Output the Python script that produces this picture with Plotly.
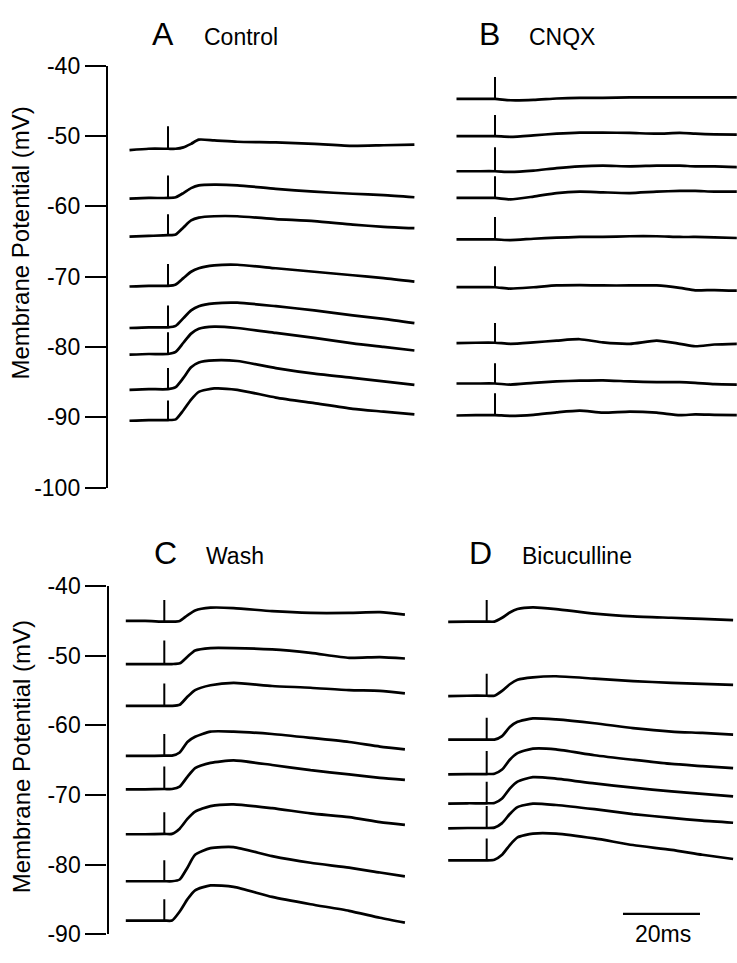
import plotly.graph_objects as go

W, H = 737, 963


def px_x(p):
    return p / W


def px_y(p):
    return 1 - p / H


FONT = "Liberation Sans, Arial, Helvetica, sans-serif"

# ---------------- data (ms relative to stimulus, mV) ----------------
A_time = [-10, -5, 0, 2, 4, 6, 8, 12, 18, 28, 38, 48, 56, 64]
A_trace1 = [-52.0, -51.8, -51.8, -51.8, -51.6, -51.1, -50.5, -50.6, -50.8, -50.9, -51.1, -51.4, -51.3, -51.2]
A_trace2 = [-58.9, -58.8, -58.8, -58.7, -58.1, -57.4, -57.0, -56.9, -57.0, -57.5, -57.9, -58.2, -58.4, -58.7]
A_trace3 = [-64.3, -64.2, -64.1, -64.0, -63.0, -62.0, -61.6, -61.4, -61.4, -61.8, -62.1, -62.6, -62.9, -63.1]
A_trace4 = [-71.4, -71.3, -71.3, -71.1, -70.2, -69.3, -68.8, -68.4, -68.3, -68.8, -69.3, -69.8, -70.2, -70.7]
A_trace5 = [-77.3, -77.2, -77.2, -77.0, -75.9, -74.8, -74.2, -73.8, -73.7, -74.2, -74.8, -75.5, -76.0, -76.6]
A_trace6 = [-81.1, -81.0, -81.0, -80.7, -79.4, -78.1, -77.4, -77.1, -77.3, -78.0, -78.7, -79.5, -80.0, -80.5]
A_trace7 = [-86.1, -86.0, -86.0, -85.7, -84.4, -82.9, -82.2, -81.9, -82.0, -83.0, -83.8, -84.4, -84.9, -85.4]
A_trace8 = [-90.5, -90.4, -90.4, -90.3, -89.0, -87.5, -86.4, -85.9, -86.1, -87.2, -88.0, -88.8, -89.2, -89.6]
A_stim_top = [-48.6, -55.6, -61.1, -68.2, -74.1, -77.9, -83.0, -87.6]

B_time = [-10, -5, 0, 4, 10, 16, 22, 28, 35, 42, 48, 52, 57, 63]
B_trace1 = [-44.7, -44.7, -44.7, -44.9, -44.85, -44.65, -44.55, -44.55, -44.5, -44.5, -44.5, -44.5, -44.5, -44.5]
B_trace2 = [-50.0, -50.0, -50.0, -50.1, -49.9, -49.65, -49.5, -49.5, -49.55, -49.65, -49.55, -49.65, -49.75, -49.8]
B_trace3 = [-55.0, -55.0, -55.0, -55.1, -54.9, -54.55, -54.3, -54.2, -54.3, -54.2, -54.2, -54.3, -54.3, -54.4]
B_trace4 = [-58.8, -58.8, -58.8, -59.0, -58.6, -58.1, -57.9, -58.0, -58.1, -57.9, -57.8, -57.8, -57.9, -57.9]
B_trace5 = [-64.7, -64.7, -64.7, -64.8, -64.6, -64.45, -64.35, -64.35, -64.25, -64.25, -64.35, -64.35, -64.4, -64.5]
B_trace6 = [-71.5, -71.5, -71.5, -71.7, -71.5, -71.25, -71.2, -71.25, -71.25, -71.25, -71.6, -71.95, -71.9, -72.0]
B_trace7 = [-79.45, -79.4, -79.4, -79.55, -79.35, -79.1, -78.9, -79.35, -79.55, -79.1, -79.55, -79.9, -79.65, -79.55]
B_trace8 = [-85.2, -85.2, -85.2, -85.35, -85.1, -84.9, -84.8, -84.75, -84.9, -85.0, -85.0, -85.1, -85.3, -85.35]
B_trace9 = [-89.75, -89.7, -89.7, -89.8, -89.65, -89.3, -89.05, -89.35, -89.2, -89.35, -89.7, -89.6, -89.65, -89.7]
B_stim_top = [-41.6, -47.0, -51.6, -55.7, -61.5, -68.5, -76.6, -82.3, -86.6]

C_time = [-10, -5, 0, 2, 4, 6, 8, 12, 18, 28, 38, 48, 56, 62.5]
C_trace1 = [-45.0, -45.0, -45.1, -45.1, -45.0, -44.2, -43.5, -43.1, -43.15, -43.6, -43.85, -43.85, -43.75, -44.1]
C_trace2 = [-51.2, -51.2, -51.2, -51.2, -51.1, -50.15, -49.25, -48.9, -48.9, -49.1, -49.6, -50.3, -50.2, -50.4]
C_trace3 = [-57.2, -57.2, -57.2, -57.2, -57.05, -55.9, -54.95, -54.25, -53.9, -54.35, -54.6, -54.95, -55.05, -55.4]
C_trace4 = [-64.4, -64.4, -64.35, -64.35, -63.9, -62.4, -61.65, -60.9, -60.9, -61.25, -61.8, -62.4, -63.05, -63.45]
C_trace5 = [-69.2, -69.2, -69.15, -69.15, -68.8, -67.4, -66.15, -65.4, -65.05, -65.7, -66.45, -67.05, -67.55, -67.85]
C_trace6 = [-75.65, -75.65, -75.6, -75.6, -74.85, -73.45, -72.4, -71.6, -71.35, -71.9, -72.65, -73.2, -73.9, -74.3]
C_trace7 = [-82.4, -82.4, -82.4, -82.4, -82.15, -80.45, -78.6, -77.65, -77.5, -78.8, -79.75, -80.45, -81.15, -81.7]
C_trace8 = [-88.05, -88.05, -88.05, -88.05, -86.75, -85.0, -83.7, -83.0, -83.2, -84.65, -85.7, -86.65, -87.65, -88.35]
C_stim_top = [-42.0, -47.8, -54.0, -61.25, -65.9, -72.5, -79.4, -85.0]

D_time = [-10, -5, 0, 2, 4, 6, 8, 12, 18, 28, 38, 48, 56, 64]
D_trace1 = [-45.15, -45.1, -45.1, -45.1, -44.55, -43.8, -43.3, -43.05, -43.3, -43.95, -44.35, -44.55, -44.7, -44.9]
D_trace2 = [-55.8, -55.75, -55.75, -55.75, -55.05, -54.1, -53.45, -53.1, -52.95, -53.3, -53.65, -53.9, -54.05, -54.2]
D_trace3 = [-62.05, -62.05, -62.05, -62.05, -61.55, -60.25, -59.5, -59.0, -59.15, -59.7, -60.4, -60.9, -61.1, -61.35]
D_trace4 = [-67.05, -67.0, -67.0, -66.95, -66.35, -64.95, -64.0, -63.35, -63.45, -64.3, -64.95, -65.55, -65.85, -66.15]
D_trace5 = [-71.25, -71.2, -71.2, -71.15, -70.5, -69.1, -68.1, -67.45, -67.65, -68.35, -68.95, -69.5, -69.85, -70.2]
D_trace6 = [-74.8, -74.75, -74.75, -74.7, -74.05, -72.75, -71.75, -71.25, -71.45, -72.05, -72.75, -73.3, -73.7, -74.0]
D_trace7 = [-79.4, -79.4, -79.4, -79.3, -78.6, -77.2, -76.1, -75.55, -75.55, -76.25, -77.2, -77.9, -78.6, -79.2]
D_stim_top = [-42.0, -52.6, -58.9, -63.7, -68.1, -71.6, -76.25]

Y_TICKS_TOP = [-40, -50, -60, -70, -80, -90, -100]
Y_TICKS_BOTTOM = [-40, -50, -60, -70, -80, -90]

SCALE_BAR_MS = [35.4, 55.4]
SCALE_BAR_MV = -87.1

PANEL_LETTERS = ["A", "B", "C", "D"]
PANEL_NAMES = ["Control", "CNQX", "Wash", "Bicuculline"]
Y_TITLE = "Membrane Potential (mV)"

# ---------------- figure ----------------
PX_PER_MS = 3.85
fig = go.Figure()

panels = [
    ("x", "y", A_time, [A_trace1, A_trace2, A_trace3, A_trace4, A_trace5, A_trace6, A_trace7, A_trace8], A_stim_top),
    ("x2", "y2", B_time, [B_trace1, B_trace2, B_trace3, B_trace4, B_trace5, B_trace6, B_trace7, B_trace8, B_trace9], B_stim_top),
    ("x3", "y3", C_time, [C_trace1, C_trace2, C_trace3, C_trace4, C_trace5, C_trace6, C_trace7, C_trace8], C_stim_top),
    ("x4", "y4", D_time, [D_trace1, D_trace2, D_trace3, D_trace4, D_trace5, D_trace6, D_trace7], D_stim_top),
]

for xa, ya, tt, traces, tops in panels:
    i0 = tt.index(0)
    for vals, top in zip(traces, tops):
        # membrane potential trace
        fig.add_trace(go.Scatter(x=tt, y=vals, mode="lines", xaxis=xa, yaxis=ya,
                                 line=dict(color="black", width=2.7, shape="spline", smoothing=0.6),
                                 hoverinfo="skip", showlegend=False))
        # stimulus artifact
        fig.add_trace(go.Scatter(x=[0, 0], y=[vals[i0], top], mode="lines", xaxis=xa, yaxis=ya,
                                 line=dict(color="black", width=2),
                                 hoverinfo="skip", showlegend=False))

# scale bar in panel D
fig.add_trace(go.Scatter(x=SCALE_BAR_MS, y=[SCALE_BAR_MV, SCALE_BAR_MV], mode="lines",
                         xaxis="x4", yaxis="y4", line=dict(color="black", width=2.2),
                         showlegend=False, hoverinfo="skip"))


def xdomain(stim_px, r0, r1):
    return [px_x(stim_px + r0 * PX_PER_MS), px_x(stim_px + r1 * PX_PER_MS)]


yd_top = [px_y(487.7), px_y(54.3)]
yd_bot = [px_y(946.7), px_y(589.0)]

hidden_x = dict(visible=False, showgrid=False, zeroline=False)

visible_y = dict(showline=True, linecolor="black", linewidth=2.4, ticks="outside", ticklen=21,
                 tickwidth=2.4, tickcolor="black", showgrid=False, zeroline=False,
                 tickfont=dict(family=FONT, size=23, color="black"))

fig.update_layout(
    width=W, height=H, margin=dict(l=0, r=0, t=0, b=0),
    paper_bgcolor="white", plot_bgcolor="white", showlegend=False,
    xaxis=dict(domain=xdomain(168, -12, 66), range=[-12, 66], anchor="y", **hidden_x),
    yaxis=dict(domain=yd_top, range=[-100, -40], anchor="free", position=px_x(107),
               tickvals=Y_TICKS_TOP, ticktext=[str(v) for v in Y_TICKS_TOP], **visible_y),
    xaxis2=dict(domain=xdomain(495, -11.5, 62.8), range=[-11.5, 62.8], anchor="y2", **hidden_x),
    yaxis2=dict(domain=yd_top, range=[-100, -40], anchor="x2", visible=False, showgrid=False, zeroline=False),
    xaxis3=dict(domain=xdomain(164.3, -12, 66), range=[-12, 66], anchor="y3", **hidden_x),
    yaxis3=dict(domain=yd_bot, range=[-90, -40], anchor="free", position=px_x(107.5),
                tickvals=Y_TICKS_BOTTOM, ticktext=[str(v) for v in Y_TICKS_BOTTOM], **visible_y),
    xaxis4=dict(domain=xdomain(486.7, -11.5, 64.5), range=[-11.5, 64.5], anchor="y4", **hidden_x),
    yaxis4=dict(domain=yd_bot, range=[-90, -40], anchor="x4", visible=False, showgrid=False, zeroline=False),
)

ann = []
letter_pos = [(162.5, 21.8), (489, 21.8), (165, 555.0), (480, 555.0)]
name_pos = [(202, 25.0), (527, 25.0), (204, 558.0), (520, 558.0)]
for letter, name, (lx, ly), (nx, ny) in zip(PANEL_LETTERS, PANEL_NAMES, letter_pos, name_pos):
    ann.append(dict(text=letter, x=px_x(lx), y=px_y(ly), xref="paper", yref="paper",
                    xanchor="center", yanchor="middle", showarrow=False,
                    font=dict(family=FONT, size=32, color="black")))
    ann.append(dict(text=name, x=px_x(nx), y=px_y(ny), xref="paper", yref="paper",
                    xanchor="left", yanchor="middle", showarrow=False,
                    font=dict(family=FONT, size=23, color="black")))

for cy in (237, 765):
    ann.append(dict(text=Y_TITLE, x=px_x(21), y=px_y(cy), xref="paper", yref="paper",
                    xanchor="center", yanchor="middle", textangle=-90, showarrow=False,
                    font=dict(family=FONT, size=24, color="black")))

ann.append(dict(text="20ms", x=px_x(663), y=px_y(947), xref="paper", yref="paper",
                xanchor="center", yanchor="middle", showarrow=False,
                font=dict(family=FONT, size=23, color="black")))

fig.update_layout(annotations=ann)
fig.write_html("out.html")
